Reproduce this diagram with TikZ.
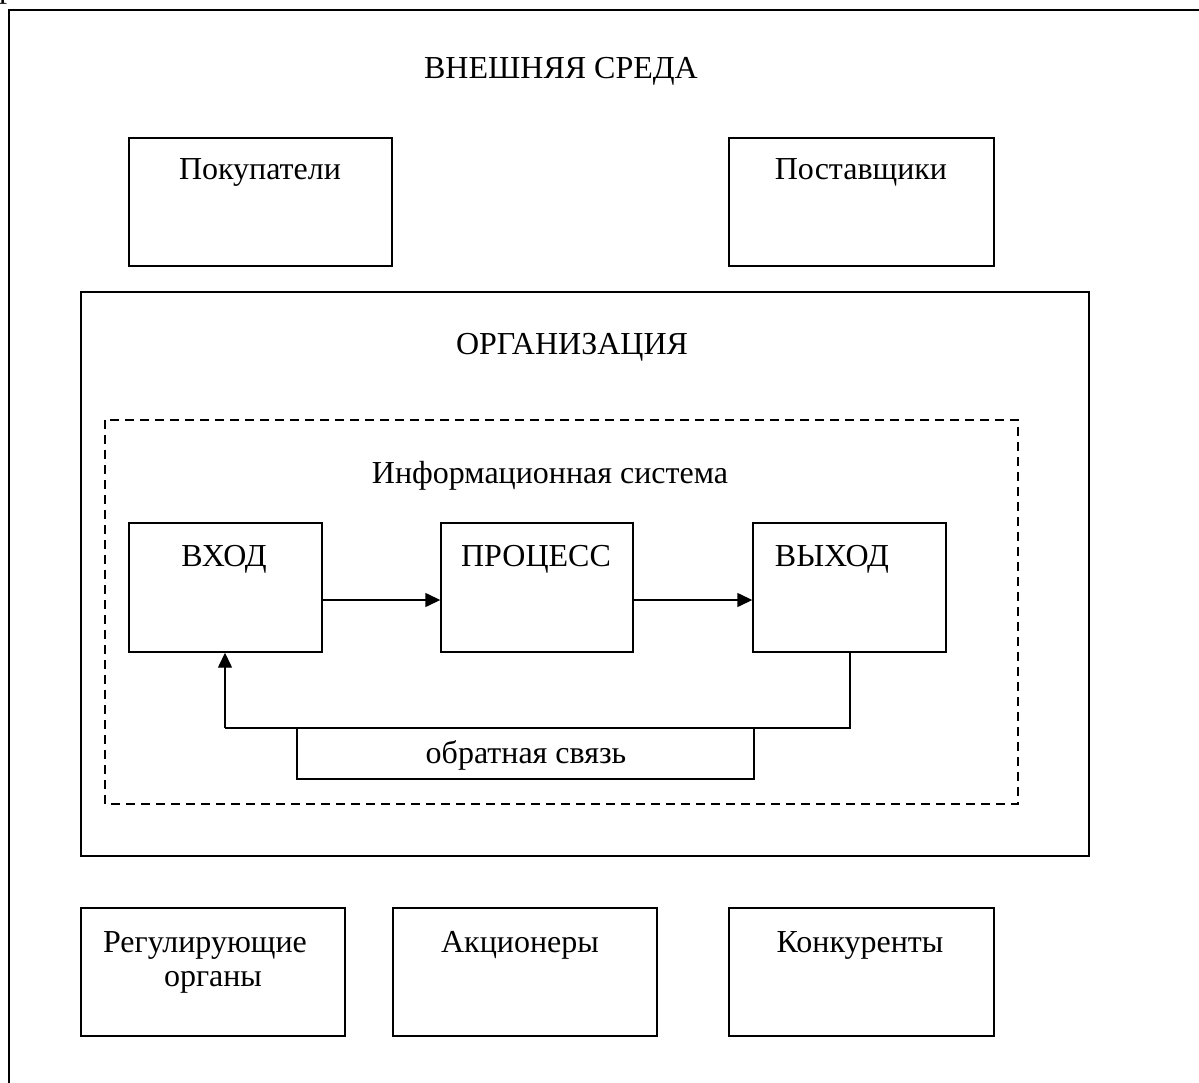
\documentclass[tikz,border=0pt]{standalone}
\usepackage{fontspec}
\setmainfont{Liberation Serif}
\usetikzlibrary{arrows.meta}
\begin{document}
\begin{tikzpicture}[x=1pt,y=-1pt,
  box/.style={draw,line width=1.4pt},
  lbl/.style={font=\fontsize{32}{34}\selectfont,inner sep=0pt,anchor=center},
  conn/.style={line width=1.4pt},
  arr/.style={conn,-{Triangle[length=15pt,width=14pt]}}]
\useasboundingbox (0,0) rectangle (1199,1083);
% outer frame (extends beyond page)
\draw[line width=2.2pt] (1230,10) -- (9,10) -- (9,1120);
% fragment of text line above
\node[lbl,anchor=base west] (frag) at (-1,-2) {р};
\node[lbl] (env) at (561,71) {ВНЕШНЯЯ СРЕДА};
% top boxes
\draw[box] (129,138) rectangle (392,266);
\node[lbl] (pok) at (260,172) {Покупатели};
\draw[box] (729,138) rectangle (994,266);
\node[lbl] (post) at (861,172) {Поставщики};
% organisation
\draw[box] (81,292) rectangle (1089,856);
\node[lbl] (org) at (572,347) {ОРГАНИЗАЦИЯ};
% dashed IS
\draw[line width=1.4pt,dash pattern=on 9pt off 6pt] (105,420) rectangle (1018,804);
\node[lbl] (is) at (550,476) {Информационная система};
% process boxes
\node[box,minimum width=193pt,minimum height=129pt,inner sep=0pt] (in) at (225.5,587.5) {};
\node[lbl] at (224,559) {ВХОД};
\node[box,minimum width=192pt,minimum height=129pt,inner sep=0pt] (proc) at (537,587.5) {};
\node[lbl] at (536,559) {ПРОЦЕСС};
\node[box,minimum width=193pt,minimum height=129pt,inner sep=0pt] (out) at (849.5,587.5) {};
\node[lbl] at (832,559) {ВЫХОД};
\draw[arr] (in.east |- 0,600) -- (proc.west |- 0,600);
\draw[arr] (proc.east |- 0,600) -- (out.west |- 0,600);
% feedback
\node[box,minimum width=457pt,minimum height=51pt,inner sep=0pt] (fb) at (525.5,753.5) {};
\node[lbl] at (526,755) {обратная связь};
\coordinate (c1) at (850,728);
\coordinate (c2) at (225,728);
\draw[conn] (out.south -| c1) -- (c1) -- (c2);
\draw[arr] (c2) -- (in.south -| c2);
% bottom boxes
\draw[box] (81,908) rectangle (345,1036);
\node[lbl,align=center] (reg) at (205,962) {Регулирующие\\\hspace*{16pt}органы};
\draw[box] (393,908) rectangle (657,1036);
\node[lbl] (akc) at (520,945) {Акционеры};
\draw[box] (729,908) rectangle (994,1036);
\node[lbl] (konk) at (860,945) {Конкуренты};
\end{tikzpicture}
\end{document}
